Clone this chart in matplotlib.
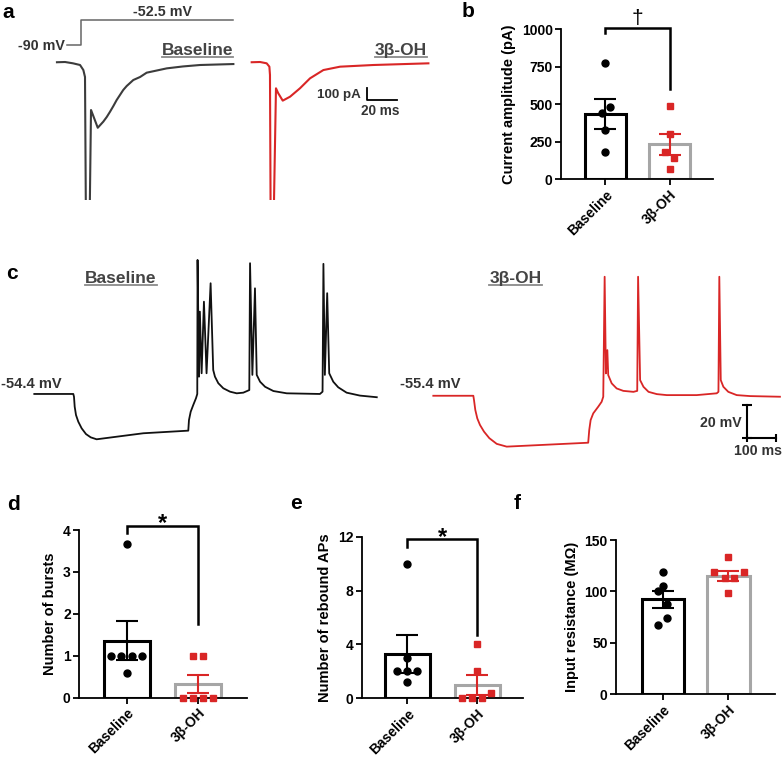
import numpy as np
import matplotlib
matplotlib.use("Agg")
import matplotlib.pyplot as plt
from matplotlib.lines import Line2D

plt.rcParams['font.family'] = ['Liberation Sans', 'DejaVu Sans']
plt.rcParams['font.weight'] = 'bold'
plt.rcParams['axes.labelweight'] = 'bold'

W, H = 784, 765
RED = '#d92626'
GREY_EDGE = '#a6a6a6'
TXT = '#333333'

# ---- panel a: voltage-clamp traces (ms, pA)
a_base_t = [1.3, 6.7, 12, 16.7, 18.9, 20, 20.7, 22.9, 24, 25.3, 28.5, 32.2, 34.5, 36.7,
            38.9, 41.1, 45.5, 47.8, 52.2, 56.7, 61.1, 67.8, 74.5, 85.3, 96.7, 118.9]
a_base_i = [-2, 0, -11, -25, -67, -125, -1500, -1500, -400, -442, -548, -497, -458, -414,
            -367, -317, -233, -200, -150, -125, -89, -71, -53, -37, -25, -17]
a_red_t = [131.1, 136.7, 141.1, 142.9, 143.3, 143.8, 145.5, 147.3, 148.7, 151.8,
           156.7, 163.3, 170, 178.9, 190, 212.2, 248.9]
a_red_i = [-2, 0, -11, -39, -108, -1500, -1500, -219, -258, -322, -289, -219, -136,
           -67, -39, -25, -11]
# step protocol (ms, mV)
prot_t = [7.8, 17.3, 17.3, 118.9]
prot_v = [-90, -90, -52.5, -52.5]

# ---- panel c: current-clamp traces (ms, mV)
c_base_t = [0, 134.5, 136.9, 139.3, 143.8, 151.7, 163.4, 178.3, 194.5, 215, 376, 531,
            533.4, 539.3, 548.3, 557.6, 562, 563, 568, 571, 577, 585, 594, 608, 617,
            623, 634.5, 651.7, 675, 698, 720.7, 741.4, 744, 752, 761, 767, 778.6, 795.9,
            824.5, 870.5, 985, 994, 997, 1002, 1010, 1017, 1031, 1048, 1077, 1123, 1181]
c_base_v = [-54.4, -54.4, -56.1, -62.2, -67.3, -71.4, -75.5, -79, -81, -82.2, -78.5,
            -76.9, -70.4, -65.3, -61.1, -57, -54.4, 27.8, -43.8, -3.9, -41.7, 2.2, -41.7,
            13.5, -39.7, -43.8, -47.8, -50.9, -53, -54, -53.6, -52, 25.8, -42.7, 10.4,
            -42.7, -46.9, -50, -52.6, -54, -54.4, -53, 25.4, -42.7, 7.4, -41.7, -46.9,
            -50.3, -53.6, -55.4, -56.4]
c_red_t = [0, 138, 140.3, 144.8, 151.7, 160.9, 174.8, 193.1, 218.6, 253, 534, 537.6,
           542.4, 551.4, 568.6, 580.3, 585.9, 590.7, 595, 600, 603, 615, 632, 655, 690,
           703, 706, 713, 724.5, 742, 770.7, 805, 908, 977, 983, 986, 991, 1000, 1017,
           1046, 1092, 1195]
c_red_v = [-55.4, -55.4, -58, -64.1, -69.3, -73.3, -77.4, -81.4, -84.9, -86.6, -84.2,
           -76.4, -70.3, -66.2, -62.1, -59.1, -56, 17.6, -41.7, -27.4, -42.7, -47.8,
           -50.9, -52.4, -53, -52.4, 17.6, -45.8, -49.9, -53, -54.4, -55, -55, -53.9,
           -53, 17.6, -45.8, -49.9, -53, -55, -55.6, -56]

groups = ['Baseline', '3β-OH']

# ---- panel b: current amplitude (pA)
b_base = [773, 444, 480, 329, 182]
b_red = [489, 302, 184, 144, 71]
b_mean = [435, 233]
b_sem = [100, 72]
b_base_dx = [0, -0.05, 0.08, 0, 0]
b_red_dx = [0, 0, -0.07, 0.07, 0]

# ---- panel d: number of bursts
d_base = [3.67, 1, 1, 1, 1, 0.6]
d_red = [1, 1, 0, 0, 0, 0]
d_mean = [1.36, 0.32]
d_sem = [0.47, 0.21]
d_base_dx = [0, -0.22, -0.08, 0.07, 0.21, 0]
d_red_dx = [-0.07, 0.07, -0.21, -0.07, 0.07, 0.21]

# ---- panel e: rebound APs
e_base = [10, 3, 2, 2, 2, 1.2]
e_red = [4, 2, 0.4, 0, 0, 0]
e_mean = [3.3, 1.0]
e_sem = [1.4, 0.72]
e_base_dx = [0, 0, -0.15, 0, 0.14, 0]
e_red_dx = [0, 0, 0.2, -0.22, -0.08, 0.06]

# ---- panel f: input resistance (MOhm)
f_base = [119, 105, 100, 88, 74, 67]
f_red = [133, 119, 119, 113, 113, 98]
f_mean = [92.3, 115]
f_sem = [8.2, 5.2]
f_base_dx = [0, 0, -0.07, 0.07, 0.07, -0.07]
f_red_dx = [0, -0.22, 0.23, -0.06, 0.08, 0]


def box(x0, y0, x1, y1):
    return [x0 / W, 1 - y1 / H, (x1 - x0) / W, (y1 - y0) / H]


fig = plt.figure(figsize=(W / 100, H / 100), dpi=100)


def ftext(x, y, s, **kw):
    return fig.text(x / W, 1 - y / H, s, **kw)


def underline(t, color='#8a8a8a', lw=1.3):
    fig.canvas.draw()
    bb = t.get_window_extent()
    inv = fig.transFigure.inverted()
    (x0, y0), (x1, _) = inv.transform([[bb.x0, bb.y0 + 1], [bb.x1, bb.y0 + 1]])
    fig.add_artist(Line2D([x0, x1], [y0, y0], color=color, lw=lw, transform=fig.transFigure))


def bar_panel(ax, means, sems, base, red, bdx, rdx, xlim, ylim, yticks, ylabel):
    x = [0, 1]
    ax.bar(x, means, width=0.64, color='white', edgecolor=['black', GREY_EDGE],
           linewidth=2.2, zorder=1)
    for i, c in enumerate(['black', RED]):
        ax.errorbar(x[i], means[i], yerr=sems[i], fmt='none', ecolor=c, capsize=8,
                    elinewidth=1.5, capthick=1.5, zorder=2)
    ax.plot(np.array(bdx) + 0, base, 'o', color='black', ms=5, ls='none', clip_on=False, zorder=3)
    ax.plot(np.array(rdx) + 1, red, 's', color=RED, ms=5, ls='none', clip_on=False, zorder=3)
    ax.set_xlim(xlim)
    ax.set_ylim(ylim)
    ax.set_yticks(yticks)
    ax.set_xticks(x)
    ax.set_xticklabels(groups, rotation=45, ha='right', va='top', rotation_mode='anchor',
                       fontsize=10)
    for s in ['top', 'right']:
        ax.spines[s].set_visible(False)
    for s in ['left', 'bottom']:
        ax.spines[s].set_linewidth(1.3)
    ax.tick_params(width=1.3, length=4, labelsize=10, pad=2)
    ax.set_ylabel(ylabel, fontsize=10.5)


def bracket(ax, yl, ytop, yr, sym, ysym, size, weight='bold'):
    ax.plot([0, 0, 1, 1], [yl, ytop, ytop, yr], color='black', lw=1.8, clip_on=False,
            solid_joinstyle='miter')
    ax.text(0.5, ysym, sym, ha='center', va='baseline', fontsize=size, fontweight=weight)


# ---------- panel a
axp = fig.add_axes(box(55, 5, 435, 55))
axp.plot(prot_t, prot_v, color='#666666', lw=1.1)
axp.set_xlim(0, 253.3)
axp.set_ylim(-105, -30)
axp.axis('off')

axa = fig.add_axes(box(55, 15, 435, 200))
axa.plot(a_base_t, a_base_i, color='#3c3c3c', lw=1.5)
axa.plot(a_red_t, a_red_i, color=RED, lw=1.5)
axa.plot([207.8, 207.8, 227.8], [-217, -317, -317], color='black', lw=1.3)
axa.set_xlim(0, 253.3)
axa.set_ylim(-1150, 391.7)
axa.axis('off')

ftext(2, 18, 'a', fontsize=15)
ftext(65, 50, '-90 mV', ha='right', va='baseline', fontsize=10.3, color=TXT)
ftext(162.5, 15.7, '-52.5 mV', ha='center', va='baseline', fontsize=10.3, color=TXT)
t1 = ftext(233, 55, 'Baseline', ha='right', va='baseline', fontsize=12.5, color='#444444')
t2 = ftext(427, 55, '3β-OH', ha='right', va='baseline', fontsize=12.5, color='#444444')
ftext(361, 98.3, '100 pA', ha='right', va='baseline', fontsize=9.6, color=TXT)
ftext(380.5, 115, '20 ms', ha='center', va='baseline', fontsize=9.8, color=TXT)

# ---------- panel b
axb = fig.add_axes(box(561, 29.3, 713, 179.3))
bar_panel(axb, b_mean, b_sem, b_base, b_red, b_base_dx, b_red_dx, (-0.69, 1.677),
          (0, 1000), [0, 250, 500, 750, 1000], 'Current amplitude (pA)')
bracket(axb, 973, 1007, 600, '†', 1035, 15, weight='normal')
ftext(462, 17, 'b', fontsize=15)

# ---------- panel c
axc1 = fig.add_axes(box(30, 250, 390, 460))
axc1.plot(c_base_t, c_base_v, color='#111111', lw=1.3)
axc1.set_xlim(-14.8, 1226.6)
axc1.set_ylim(-94.9, 33.9)
axc1.axis('off')

axc2 = fig.add_axes(box(425, 250, 784, 460))
axc2.plot(c_red_t, c_red_v, color=RED, lw=1.3)
axc2.plot([1080.7, 1080.7, 1180.7], [-61.2, -81.2, -81.2], color='black', lw=1.5, clip_on=False)
axc2.plot([1080.7, 1080.7], [-61.2, -81.2], ls='none', marker='_', ms=7, mew=1.5,
          color='black', clip_on=False)
axc2.plot([1080.7, 1180.7], [-81.2, -81.2], ls='none', marker='|', ms=6, mew=1.5,
          color='black', clip_on=False)
axc2.set_xlim(-28.6, 1209)
axc2.set_ylim(-94.8, 34.0)
axc2.axis('off')

ftext(6, 279, 'c', fontsize=15)
t3 = ftext(121, 283.3, 'Baseline', ha='center', va='baseline', fontsize=12.5, color='#444444')
t4 = ftext(515.5, 283.3, '3β-OH', ha='center', va='baseline', fontsize=12.5, color='#444444')
ftext(1, 388.3, '-54.4 mV', ha='left', va='baseline', fontsize=10.5, color=TXT)
ftext(400, 388.3, '-55.4 mV', ha='left', va='baseline', fontsize=10.5, color=TXT)
ftext(742, 426.7, '20 mV', ha='right', va='baseline', fontsize=10.2, color=TXT)
ftext(758, 455, '100 ms', ha='center', va='baseline', fontsize=10.2, color=TXT)

# ---------- panel d
axd = fig.add_axes(box(79, 530, 246.7, 697.7))
bar_panel(axd, d_mean, d_sem, d_base, d_red, d_base_dx, d_red_dx, (-0.666, 1.676),
          (0, 4), [0, 1, 2, 3, 4], 'Number of bursts')
bracket(axd, 3.92, 4.1, 1.76, '*', 4.0, 17)
ftext(7, 510, 'd', fontsize=15)

# ---------- panel e
axe = fig.add_axes(box(361.7, 536.7, 523, 698.3))
bar_panel(axe, e_mean, e_sem, e_base, e_red, e_base_dx, e_red_dx, (-0.654, 1.65),
          (0, 12), [0, 4, 8, 12], 'Number of rebound APs')
bracket(axe, 11.26, 11.8, 4.7, '*', 11.42, 17)
ftext(290, 509, 'e', fontsize=15)

# ---------- panel f
axf = fig.add_axes(box(616, 540, 775, 694.3))
bar_panel(axf, f_mean, f_sem, f_base, f_red, f_base_dx, f_red_dx, (-0.712, 1.708),
          (0, 150), [0, 50, 100, 150], 'Input resistance (MΩ)')
ftext(514, 509, 'f', fontsize=15)

for t in (t1, t2, t3, t4):
    underline(t)

fig.savefig('out.png', dpi=100)
